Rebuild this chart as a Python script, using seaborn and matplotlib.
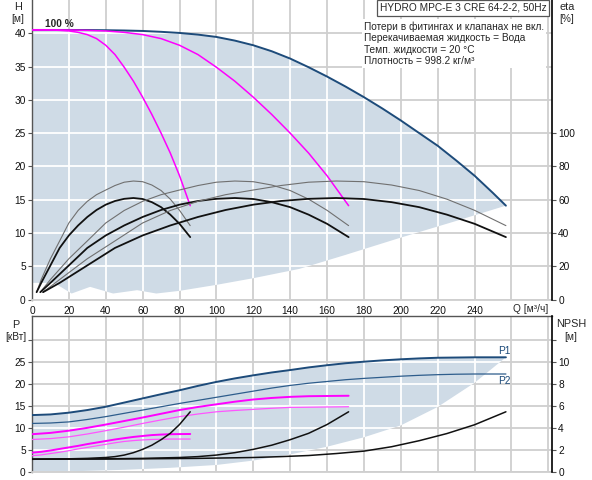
import numpy as np
import pandas as pd
import matplotlib
matplotlib.use("Agg")
import matplotlib.pyplot as plt
import seaborn as sns

sns.set_theme(style="white")
plt.rcParams['font.family'] = ['Liberation Sans', 'DejaVu Sans']

# ---------------- data ----------------
# Head curves H [m] vs Q [m3/h]
q_max = [0, 10, 20, 30, 40, 50, 60, 70, 80, 90, 100, 110, 120, 130, 140, 150, 160,
         170, 180, 190, 200, 210, 220, 230, 240, 250, 257]
h_max = [40.5, 40.5, 40.5, 40.49, 40.46, 40.42, 40.35, 40.22, 40.05, 39.8, 39.45, 38.9,
         38.2, 37.3, 36.2, 34.9, 33.5, 32.0, 30.4, 28.7, 26.9, 25.0, 23.1, 20.9, 18.6,
         16.0, 14.1]

q_h1 = [0, 5, 10, 15, 20, 25, 30, 35, 40, 45, 50, 55, 60, 65, 70, 75, 80, 85.8]
h_1 = [40.5, 40.5, 40.49, 40.44, 40.35, 40.14, 39.8, 39.2, 38.2, 36.8, 34.9, 32.8,
       30.4, 27.8, 25.0, 22.0, 18.6, 14.1]

q_h2 = [0, 10, 20, 30, 40, 50, 60, 70, 80, 90, 100, 110, 120, 130, 140, 150, 160, 171.7]
h_2 = [40.5, 40.5, 40.49, 40.44, 40.35, 40.14, 39.8, 39.2, 38.2, 36.8, 34.9, 32.8,
       30.4, 27.8, 25.0, 22.0, 18.6, 14.1]

# lower boundary of the operating range (top panel)
q_low = [0, 12, 21.5, 31.5, 44, 57, 67.4, 80, 100, 120, 145, 170, 200, 230, 257]
h_low = [2.5, 2.5, 0.9, 1.9, 0.9, 1.4, 0.9, 1.3, 2.2, 3.2, 4.6, 6.7, 9.3, 11.8, 14.1]

# Efficiency eta [%] (1, 2 and 3 pumps)
q_e1 = [2.5, 5, 10, 15, 20, 25, 30, 35, 40, 45, 50, 55, 60, 65, 70, 75, 80, 85.8]
q_e2 = [4.5, 10, 20, 30, 40, 50, 60, 70, 80, 90, 100, 110, 120, 130, 140, 150, 160, 171.7]
q_e3 = [6, 15, 30, 45, 60, 75, 90, 105, 120, 135, 150, 165, 180, 195, 210, 225, 240, 257]
eta_black = [4.4, 10, 20.5, 31, 38.5, 44.5, 49.6, 53.8, 57, 59.2, 60.5, 61, 60.4,
             58.5, 55.5, 51, 45.5, 37.5]
eta_gray = [4.4, 12, 24.5, 35.2, 46, 53.5, 59, 63, 65.8, 68.5, 70.5, 71.2, 70.8,
            68.8, 65.5, 60.3, 53.6, 44.4]

# Power P [kW]
q_p = [0, 10, 20, 30, 40, 50, 60, 70, 80, 90, 100, 110, 120, 130, 140, 150, 160,
       170, 180, 190, 200, 210, 220, 230, 240, 250, 257]
p_1 = [12.95, 13.1, 13.5, 14.1, 14.85, 15.8, 16.75, 17.7, 18.6, 19.6, 20.5, 21.3,
       22.0, 22.65, 23.2, 23.8, 24.3, 24.75, 25.1, 25.4, 25.65, 25.85, 26.0, 26.05,
       26.1, 26.1, 26.1]
p_2 = [11.05, 11.15, 11.4, 11.95, 12.6, 13.35, 14.1, 14.85, 15.6, 16.3, 17.0, 17.7,
       18.4, 19.1, 19.7, 20.2, 20.6, 21.0, 21.3, 21.55, 21.8, 22.0, 22.15, 22.25,
       22.3, 22.3, 22.3]

q_pa = [0, 10, 20, 30, 40, 50, 60, 70, 80, 90, 100, 110, 120, 130, 140, 150, 160, 171.7]
p_a = [8.6, 8.9, 9.4, 10.05, 10.8, 11.6, 12.4, 13.25, 14.1, 14.8, 15.4, 16.0, 16.5,
       16.85, 17.1, 17.25, 17.3, 17.35]
p_b = [7.4, 7.6, 8.0, 8.65, 9.4, 10.2, 11.05, 11.85, 12.6, 13.2, 13.7, 14.0, 14.25,
       14.5, 14.7, 14.75, 14.8, 14.85]

q_pc = [0, 5, 10, 15, 20, 25, 30, 35, 40, 45, 50, 55, 60, 65, 70, 75, 80, 85.8]
p_c = [4.4, 4.6, 4.9, 5.25, 5.6, 5.95, 6.35, 6.7, 7.05, 7.4, 7.7, 7.98, 8.2, 8.4,
       8.52, 8.6, 8.63, 8.65]
p_d = [3.7, 3.9, 4.2, 4.5, 4.85, 5.25, 5.6, 5.95, 6.3, 6.65, 6.95, 7.15, 7.3, 7.4,
       7.45, 7.5, 7.5, 7.5]

q_plow = [0, 25, 50, 75, 100, 120, 140, 160, 180, 200, 220, 240, 257]
p_low = [0, 0.2, 0.5, 0.95, 1.6, 2.6, 4.0, 5.75, 7.9, 10.6, 14.8, 20.3, 26.1]

# NPSH [m]
q_n1 = [0, 10, 20, 30, 40, 45, 50, 55, 60, 65, 70, 75, 80, 85.8]
n_1 = [1.16, 1.18, 1.2, 1.24, 1.32, 1.4, 1.54, 1.76, 2.06, 2.44, 2.94, 3.52, 4.32, 5.48]
q_n2 = [0, 20, 40, 60, 80, 90, 100, 110, 120, 130, 140, 150, 160, 171.7]
n_2 = [1.16, 1.18, 1.2, 1.24, 1.32, 1.4, 1.54, 1.76, 2.06, 2.44, 2.94, 3.52, 4.32, 5.48]
q_n3 = [0, 30, 60, 90, 120, 135, 150, 165, 180, 195, 210, 225, 240, 257]
n_3 = [1.16, 1.18, 1.2, 1.24, 1.32, 1.4, 1.5, 1.68, 1.9, 2.3, 2.85, 3.5, 4.3, 5.48]

x_ticks = list(range(0, 281, 20))
x_labels = [str(v) for v in range(0, 241, 20)] + ['', '']
h_ticks = list(range(0, 41, 5))
eta_ticks = list(range(0, 101, 20))
p_ticks = list(range(0, 31, 5))
p_labels = ['0', '5', '10', '15', '20', '25', '']
n_ticks = list(range(0, 13, 2))
n_labels = ['0', '2', '4', '6', '8', '10', '']

title = "HYDRO MPC-E 3 CRE 64-2-2, 50Hz"
info = ["Потери в фитингах и клапанах не вкл.",
        "Перекачиваемая жидкость = Вода",
        "Темп. жидкости = 20 °C",
        "Плотность = 998.2 кг/м³"]

# ---------------- styling ----------------
W, H = 592, 480
FS = 7.3
SHADE = '#cfdbe6'
GRID = '#cfcfcf'
DBLUE = '#1d4b7a'
MAG = '#ff00ff'


def fx(x):
    return x / W


def fy(y):
    return 1 - y / H


fig = plt.figure(figsize=(W / 100, H / 100), dpi=100)
ax = fig.add_axes([fx(32), fy(299.5), 520 / W, 299.5 / H])
axb = fig.add_axes([fx(32), fy(472), 520 / W, 156 / H])


def plot_line(a, x, y, color, lw, z=3):
    sns.lineplot(x=x, y=y, ax=a, color=color, linewidth=lw, estimator=None,
                 sort=False, legend=False, zorder=z)


def shaded_grid(a, xs_up, ys_up, xs_lo, ys_lo, gx, gy):
    px = list(xs_up) + list(xs_lo)[::-1]
    py = list(ys_up) + list(ys_lo)[::-1]
    poly = a.fill(px, py, color=SHADE, lw=0, zorder=1)[0]
    for g in gx:
        a.axvline(g, color=GRID, lw=1.3, zorder=0.5)
        ln = a.axvline(g, color='white', lw=1.3, zorder=1.2)
        ln.set_clip_path(poly)
    for g in gy:
        a.axhline(g, color=GRID, lw=1.3, zorder=0.5)
        ln = a.axhline(g, color='white', lw=1.3, zorder=1.2)
        ln.set_clip_path(poly)


def style_axes(a):
    a.set_facecolor('white')
    for s in ['top', 'right']:
        a.spines[s].set_visible(False)
    a.spines['left'].set_color('#555555')
    a.spines['bottom'].set_color(GRID)
    a.spines['left'].set_linewidth(1.0)
    a.spines['bottom'].set_linewidth(1.3)
    a.tick_params(axis='both', direction='out', length=3, width=0.8,
                  color='#555555', labelsize=FS, pad=1.5, labelcolor='#111111')
    a.set_xlabel('')
    a.set_ylabel('')


def style_right(a):
    for s in ['top', 'left', 'bottom']:
        a.spines[s].set_visible(False)
    a.spines['right'].set_color('black')
    a.spines['right'].set_linewidth(1.2)
    a.tick_params(axis='y', direction='out', length=3, width=0.8, color='#555555',
                  labelsize=FS, pad=1.5, labelcolor='#111111')
    a.set_ylabel('')
    a.grid(False)


# ---------------- top panel ----------------
shaded_grid(ax, q_max, h_max, q_low, h_low, x_ticks, h_ticks)
plot_line(ax, q_max, h_max, DBLUE, 1.4)
plot_line(ax, q_h1, h_1, MAG, 1.1)
plot_line(ax, q_h2, h_2, MAG, 1.1)
ax.set_xlim(0, 282)
ax.set_ylim(0, 45)
ax.set_xticks(x_ticks)
ax.set_xticklabels(x_labels)
ax.set_yticks(h_ticks)
style_axes(ax)

ax2 = ax.twinx()
for q in (q_e1, q_e2, q_e3):
    plot_line(ax2, q, eta_gray, '#707070', 0.8)
    plot_line(ax2, q, eta_black, '#111111', 1.3)
ax2.set_ylim(0, 180)
ax2.set_yticks(eta_ticks)
ax2.set_xlim(0, 282)
style_right(ax2)

# ---------------- bottom panel ----------------
shaded_grid(axb, q_p, p_1, q_plow, p_low, x_ticks, p_ticks)
plot_line(axb, q_p, p_1, DBLUE, 1.4)
plot_line(axb, q_p, p_2, '#2e5d8c', 0.9)
plot_line(axb, q_pa, p_a, MAG, 1.4)
plot_line(axb, q_pa, p_b, '#ff55ff', 0.9)
plot_line(axb, q_pc, p_c, MAG, 1.4)
plot_line(axb, q_pc, p_d, '#ff55ff', 0.9)
axb.set_xlim(0, 282)
axb.set_ylim(0, 35.5)
axb.set_xticks(x_ticks)
axb.set_xticklabels([])
axb.set_yticks(p_ticks)
axb.set_yticklabels(p_labels)
style_axes(axb)
axb.tick_params(axis='x', length=0)
axb.spines['top'].set_visible(True)
axb.spines['top'].set_color('#555555')
axb.spines['top'].set_linewidth(1.0)
axb.text(256, 27.5, 'P1', color=DBLUE, fontsize=FS, ha='center', va='center', zorder=5)
axb.text(256, 20.7, 'P2', color=DBLUE, fontsize=FS, ha='center', va='center', zorder=5)

axb2 = axb.twinx()
for q, n in ((q_n1, n_1), (q_n2, n_2), (q_n3, n_3)):
    plot_line(axb2, q, n, '#111111', 1.1)
axb2.set_ylim(0, 35.5 * 0.4)
axb2.set_yticks(n_ticks)
axb2.set_yticklabels(n_labels)
axb2.set_xlim(0, 282)
style_right(axb2)

# ---------------- texts ----------------
fig.text(fx(18), fy(7), 'H', fontsize=FS + 0.5, ha='center', va='center')
fig.text(fx(18), fy(19), '[м]', fontsize=FS, ha='center', va='center')
fig.text(fx(559), fy(7), 'eta', fontsize=FS + 0.5, ha='left', va='center')
fig.text(fx(559), fy(19), '[%]', fontsize=FS, ha='left', va='center')
fig.text(fx(16), fy(325), 'P', fontsize=FS + 0.5, ha='center', va='center')
fig.text(fx(16), fy(337), '[кВт]', fontsize=FS, ha='center', va='center')
fig.text(fx(571), fy(324), 'NPSH', fontsize=FS + 0.5, ha='center', va='center')
fig.text(fx(571), fy(337), '[м]', fontsize=FS, ha='center', va='center')
fig.text(fx(548), fy(309), 'Q [м³/ч]', fontsize=FS, ha='right', va='center')
fig.text(fx(45), fy(24), '100 %', fontsize=FS, fontweight='bold', ha='left', va='center')

fig.text(fx(463), fy(8), title, fontsize=FS, ha='center', va='center',
         bbox=dict(boxstyle='square,pad=0.25', facecolor='white', edgecolor='#555555', lw=0.9))
fig.text(fx(364), fy(21), "\n".join(info), fontsize=FS, ha='left', va='top',
         linespacing=1.2,
         bbox=dict(boxstyle='square,pad=0.15', facecolor='white', edgecolor='none'))

fig.savefig('out.png', dpi=100)
